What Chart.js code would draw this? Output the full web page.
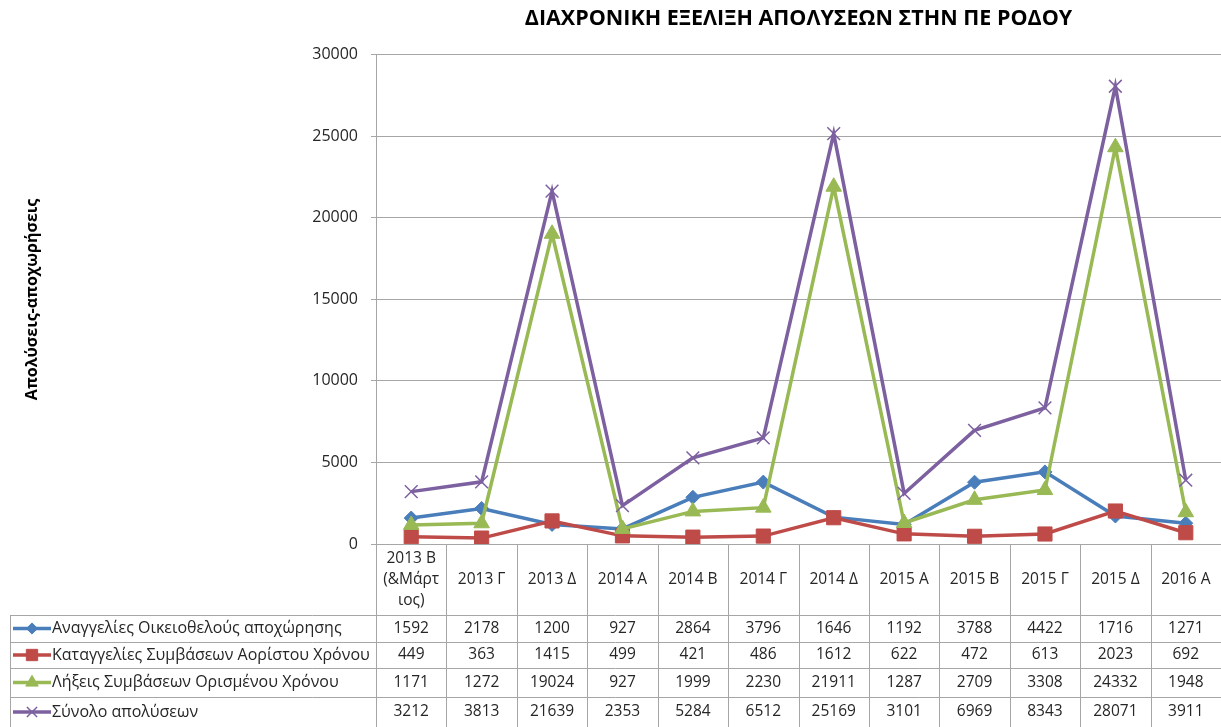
<!DOCTYPE html>
<html>
<head>
<meta charset="utf-8">
<script src="https://cdn.jsdelivr.net/npm/chart.js@4.4.1/dist/chart.umd.min.js"></script>
<style>
  html, body { margin: 0; padding: 0; background: #fff; overflow: hidden; }
  canvas { display: block; }
</style>
</head>
<body>
<canvas id="opsChart" width="1221" height="727"></canvas>
<script>
// --- data ---
const periods = [['2013 Β', '(&Μάρτ', 'ιος)'], '2013 Γ', '2013 Δ', '2014 Α', '2014 Β', '2014 Γ',
                 '2014 Δ', '2015 Α', '2015 Β', '2015 Γ', '2015 Δ', '2016 Α'];
const voluntary = [1592, 2178, 1200, 927, 2864, 3796, 1646, 1192, 3788, 4422, 1716, 1271];
const indefinite = [449, 363, 1415, 499, 421, 486, 1612, 622, 472, 613, 2023, 692];
const fixedTerm = [1171, 1272, 19024, 927, 1999, 2230, 21911, 1287, 2709, 3308, 24332, 1948];
const total = [3212, 3813, 21639, 2353, 5284, 6512, 25169, 3101, 6969, 8343, 28071, 3911];
const seriesNames = ['Αναγγελίες Οικειοθελούς αποχώρησης', 'Καταγγελίες Συμβάσεων Αορίστου Χρόνου',
                     'Λήξεις Συμβάσεων Ορισμένου Χρόνου', 'Σύνολο απολύσεων'];

const FONT = '"Open Sans", "DejaVu Sans", sans-serif';
const GRID = '#a6a6a6';

function ds(label, data, color, style, radius, pbw, order) {
    return {
        label: label, data: data, borderColor: color, backgroundColor: color,
        borderWidth: 3.5, tension: 0, pointStyle: style, pointRadius: radius,
        pointHoverRadius: radius, pointBorderWidth: pbw, pointBackgroundColor: color,
        pointBorderColor: color, order: order
    };
}

// data table under the plot, columns follow the x scale
const tablePlugin = {
    id: 'dataTable',
    afterDraw(chart) {
        const ctx = chart.ctx, area = chart.chartArea, x = chart.scales.x;
        const half = (x.getPixelForValue(1) - x.getPixelForValue(0)) / 2;
        const top = area.bottom, headH = 71, rowH = [27, 26, 29, 30], leftX = 10;
        const right = chart.width;
        const sets = chart.data.datasets;
        ctx.save();
        ctx.strokeStyle = GRID; ctx.lineWidth = 1;
        let y = top + headH;
        const rowTops = [];
        for (let r = 0; r < rowH.length; r++) {
            rowTops.push(y);
            ctx.beginPath(); ctx.moveTo(leftX, Math.round(y) + 0.5); ctx.lineTo(right, Math.round(y) + 0.5); ctx.stroke();
            y += rowH[r];
        }
        const bottom = chart.height;
        ctx.beginPath(); ctx.moveTo(leftX + 0.5, top + headH); ctx.lineTo(leftX + 0.5, bottom); ctx.stroke();
        for (let i = 0; i <= periods.length; i++) {
            const cx = Math.round(x.getPixelForValue(0) - half + i * 2 * half) + 0.5;
            ctx.beginPath(); ctx.moveTo(cx, top); ctx.lineTo(cx, bottom); ctx.stroke();
        }
        // header labels
        ctx.fillStyle = '#262626';
        ctx.font = '15.5px ' + FONT;
        ctx.textAlign = 'center'; ctx.textBaseline = 'middle';
        periods.forEach((p, i) => {
            const cx = x.getPixelForValue(i);
            const lines = Array.isArray(p) ? p : [p];
            const lh = 21;
            lines.forEach((t, k) => {
                ctx.fillText(t, cx, top + headH / 2 + (k - (lines.length - 1) / 2) * lh);
            });
        });
        // rows
        sets.forEach((d, r) => {
            const cy = rowTops[r] + rowH[r] / 2;
            ctx.strokeStyle = d.borderColor; ctx.lineWidth = 3.5;
            ctx.beginPath(); ctx.moveTo(13, cy); ctx.lineTo(51, cy); ctx.stroke();
            ctx.fillStyle = d.borderColor; ctx.lineWidth = d.pointBorderWidth;
            Chart.helpers.drawPoint(ctx, {
                pointStyle: d.pointStyle, radius: d.pointRadius * 0.8, rotation: 0,
                borderWidth: d.pointBorderWidth
            }, 32, cy);
            ctx.fillStyle = '#262626';
            ctx.textAlign = 'left';
            ctx.font = '16px ' + FONT;
            ctx.fillText(seriesNames[r], 52, cy);
            ctx.font = '15.5px ' + FONT;
            ctx.textAlign = 'center';
            d.data.forEach((v, i) => ctx.fillText(String(v), x.getPixelForValue(i), cy));
        });
        ctx.restore();
    }
};

Chart.defaults.font.family = FONT;
Chart.defaults.color = '#262626';
new Chart(document.getElementById('opsChart').getContext('2d'), {
    type: 'line',
    data: {
        labels: periods,
        datasets: [
            ds(seriesNames[0], voluntary, '#4a7ebb', 'rectRot', 7, 1, 3),
            ds(seriesNames[1], indefinite, '#be4b48', 'rect', 10, 1, 2),
            ds(seriesNames[2], fixedTerm, '#98b954', 'triangle', 9, 1, 1),
            ds(seriesNames[3], total, '#7d60a0', 'crossRot', 9, 1.5, 0)
        ]
    },
    options: {
        responsive: false, animation: false,
        layout: { autoPadding: false, padding: { top: 0, right: 0, bottom: 183, left: 0 } },
        plugins: {
            legend: { display: false },
            tooltip: { enabled: false },
            title: {
                display: true, fullSize: false,
                text: 'ΔΙΑΧΡΟΝΙΚΗ ΕΞΕΛΙΞΗ ΑΠΟΛΥΣΕΩΝ ΣΤΗΝ ΠΕ ΡΟΔΟΥ',
                font: { size: 21.5, weight: 'bold' }, color: '#000',
                padding: { top: 6, bottom: 23 }
            }
        },
        scales: {
            x: { display: false, offset: true },
            y: {
                min: 0, max: 30000,
                ticks: {
                    stepSize: 5000, padding: 13, font: { size: 16 }, color: '#262626',
                    callback: (v) => String(v)
                },
                grid: { color: GRID, tickLength: 5 },
                border: { color: GRID },
                title: {
                    display: true, text: 'Απολύσεις-αποχωρήσεις',
                    font: { size: 16, weight: 'bold' }, color: '#000', padding: { top: 23 }
                },
                afterFit(scale) { scale.width = 376; }
            }
        }
    },
    plugins: [tablePlugin]
});
</script>
</body>
</html>
